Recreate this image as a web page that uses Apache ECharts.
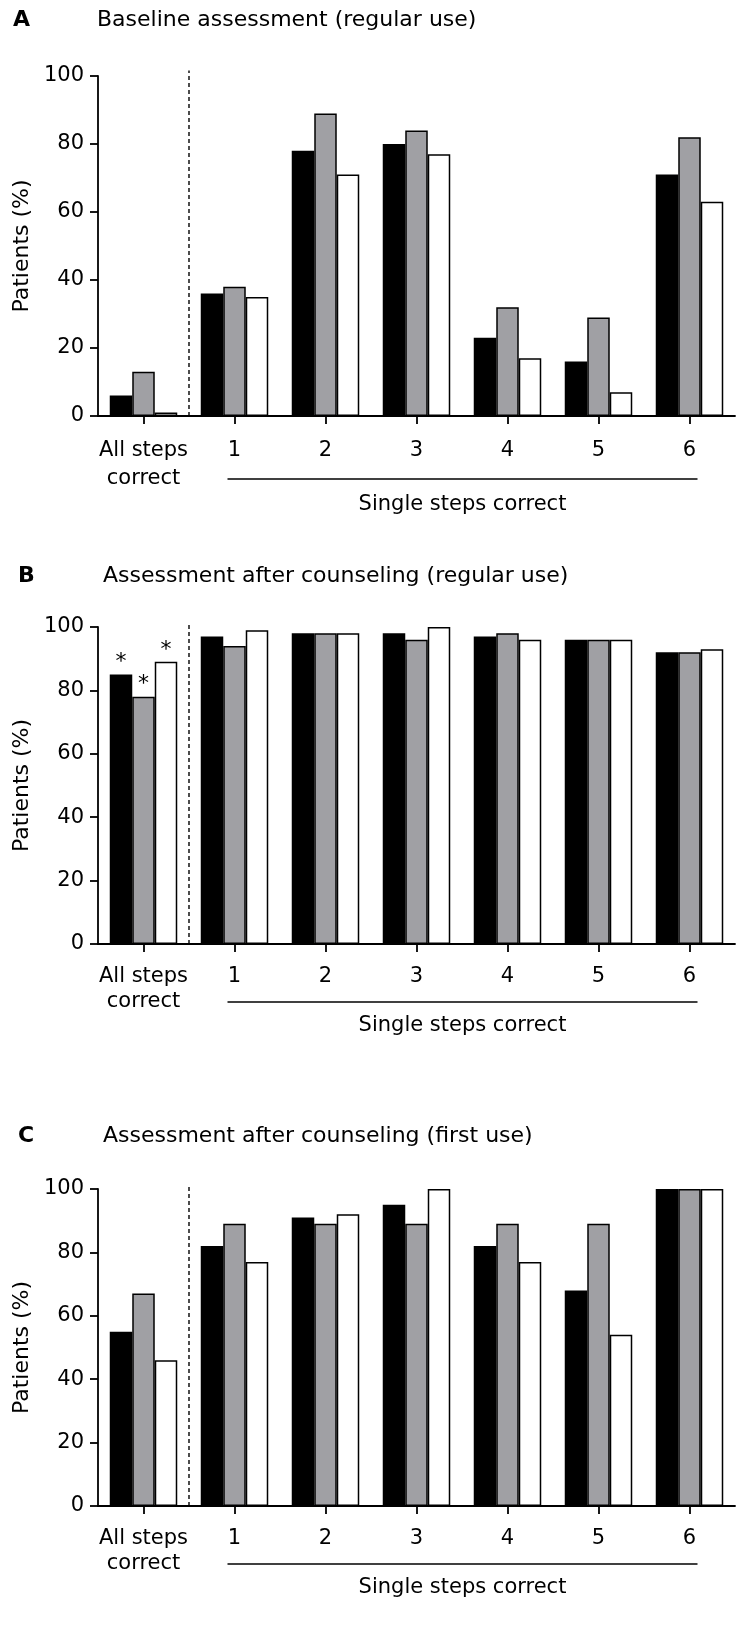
<!DOCTYPE html>
<html>
<head>
<meta charset="utf-8">
<script src="https://cdn.jsdelivr.net/npm/echarts@6/dist/echarts.min.js"></script>
<style>
  html, body { margin: 0; padding: 0; background: #fff; }
  #chart { width: 736px; height: 1640px; }
</style>
</head>
<body>
<div id="chart"></div>
<script>
// ---------- data ----------
const categories = ['All steps\ncorrect', '1', '2', '3', '4', '5', '6'];
const groupLabel = 'Single steps correct';
const yTicks = [0, 20, 40, 60, 80, 100];

const panelLetters = ['A', 'B', 'C'];
const panelTitles = [
  'Baseline assessment (regular use)',
  'Assessment after counseling (regular use)',
  'Assessment after counseling (first use)'
];

// Panel A: baseline assessment (regular use)
const baselineBlack = [6, 36, 78, 80, 23, 16, 71];
const baselineGray  = [13, 38, 89, 84, 32, 29, 82];
const baselineWhite = [1, 35, 71, 77, 17, 7, 63];

// Panel B: after counseling (regular use)
const counselRegBlack = [85, 97, 98, 98, 97, 96, 92];
const counselRegGray  = [78, 94, 98, 96, 98, 96, 92];
const counselRegWhite = [89, 99, 98, 100, 96, 96, 93];

// Panel C: after counseling (first use)
const counselFirstBlack = [55, 82, 91, 95, 82, 68, 100];
const counselFirstGray  = [67, 89, 89, 89, 89, 89, 100];
const counselFirstWhite = [46, 77, 92, 100, 77, 54, 100];

// significance markers (panel B, first category)
const starredPanel = 1;
const starredIndex = 0;
const starText = '*';

// separator between "All steps correct" and single steps (category boundary)
const separatorX = 0.5;
const separatorTop = 101.6;

// ---------- layout / style ----------
const FONT = 'DejaVu Sans';
const seriesColors = ['#000000', '#a0a0a4', '#ffffff'];
const seriesNames = ['Group 1', 'Group 2', 'Group 3'];
const panelData = [
  [baselineBlack, baselineGray, baselineWhite],
  [counselRegBlack, counselRegGray, counselRegWhite],
  [counselFirstBlack, counselFirstGray, counselFirstWhite]
];
const grids = [
  { left: 98, right: 1, top: 76, height: 340 },
  { left: 98, right: 1, top: 627, height: 317 },
  { left: 98, right: 1, top: 1189, height: 317 }
];
const labelLineHeight = [28, 25, 25];
const labelMargin = [21, 20, 20];
const titleTops = [9, 565, 1125];
const letterLefts = [13, 18, 18];
const titleLefts = [97, 103, 103];
const underlineOffset = [63, 58, 58];
const groupTextOffset = [89, 82, 82];

const option = {
  animation: false,
  backgroundColor: '#ffffff',
  title: [],
  grid: grids.map(g => Object.assign({}, g)),
  xAxis: [],
  yAxis: [],
  series: []
};

for (let p = 0; p < 3; p++) {
  option.title.push({
    text: panelLetters[p], left: letterLefts[p], top: titleTops[p], padding: 0,
    textStyle: { fontFamily: FONT, fontWeight: 'bold', fontSize: 22, color: '#000' }
  });
  option.title.push({
    text: panelTitles[p], left: titleLefts[p], top: titleTops[p], padding: 0,
    textStyle: { fontFamily: FONT, fontWeight: 'normal', fontSize: 22, color: '#000' }
  });
  option.xAxis.push({
    type: 'category', gridIndex: p, data: categories,
    axisLine: { show: true, onZero: false, lineStyle: { color: '#000', width: 1.8 } },
    axisTick: { show: true, alignWithLabel: true, length: 8, lineStyle: { color: '#000', width: 1.8 } },
    axisLabel: { color: '#000', fontFamily: FONT, fontSize: 21, margin: labelMargin[p],
                 lineHeight: labelLineHeight[p], interval: 0 },
    splitLine: { show: false }
  });
  option.yAxis.push({
    type: 'value', gridIndex: p, min: yTicks[0], max: yTicks[yTicks.length - 1],
    interval: yTicks[1] - yTicks[0],
    name: 'Patients (%)', nameLocation: 'middle', nameGap: 56, nameRotate: 90,
    nameTextStyle: { fontFamily: FONT, fontSize: 22, color: '#000' },
    axisLine: { show: true, onZero: false, lineStyle: { color: '#000', width: 1.8 } },
    axisTick: { show: true, length: 8, lineStyle: { color: '#000', width: 1.8 } },
    axisLabel: { color: '#000', fontFamily: FONT, fontSize: 21, margin: 14 },
    splitLine: { show: false }
  });
}
// hidden value axes used for the dashed separator
for (let p = 0; p < 3; p++) {
  option.xAxis.push({
    type: 'value', gridIndex: p, min: -0.5, max: categories.length - 0.5, show: false,
    axisLine: { onZero: false }
  });
}

for (let p = 0; p < 3; p++) {
  for (let s = 0; s < 3; s++) {
    const vals = panelData[p][s];
    option.series.push({
      type: 'bar', name: seriesNames[s], xAxisIndex: p, yAxisIndex: p,
      barWidth: 22.5, barGap: '0%',
      itemStyle: { color: seriesColors[s], borderColor: '#000', borderWidth: 1.5 },
      data: vals.map((v, i) => (p === starredPanel && i === starredIndex)
        ? { value: v, label: { show: true, position: 'top', distance: 1, formatter: starText,
                               fontFamily: FONT, fontSize: 22, color: '#000' } }
        : v)
    });
  }
  option.series.push({
    type: 'line', name: 'separator', xAxisIndex: 3 + p, yAxisIndex: p, silent: true,
    clip: false, symbol: 'none', z: 1,
    lineStyle: { color: '#000', width: 1.4, type: [4, 3] },
    data: [[separatorX, yTicks[0]], [separatorX, separatorTop]]
  });
}

const chart = echarts.init(document.getElementById('chart'), null, { renderer: 'canvas' });
chart.setOption(option);

// group underline + "Single steps correct" labels placed through axis conversion
const graphics = [];
for (let p = 0; p < 3; p++) {
  const x1 = chart.convertToPixel({ xAxisIndex: p }, 1) - 7;
  const x2 = chart.convertToPixel({ xAxisIndex: p }, categories.length - 1) + 8;
  const y0 = chart.convertToPixel({ yAxisIndex: p }, 0);
  graphics.push({
    type: 'line', shape: { x1: x1, y1: y0 + underlineOffset[p], x2: x2, y2: y0 + underlineOffset[p] },
    style: { stroke: '#000', lineWidth: 1.5 }, silent: true
  });
  graphics.push({
    type: 'text', x: (x1 + x2) / 2, y: y0 + groupTextOffset[p],
    style: { text: groupLabel, fontFamily: FONT, fontSize: 21, fill: '#000',
             textAlign: 'center', textVerticalAlign: 'middle' }, silent: true
  });
}
chart.setOption({ graphic: graphics });
</script>
</body>
</html>
